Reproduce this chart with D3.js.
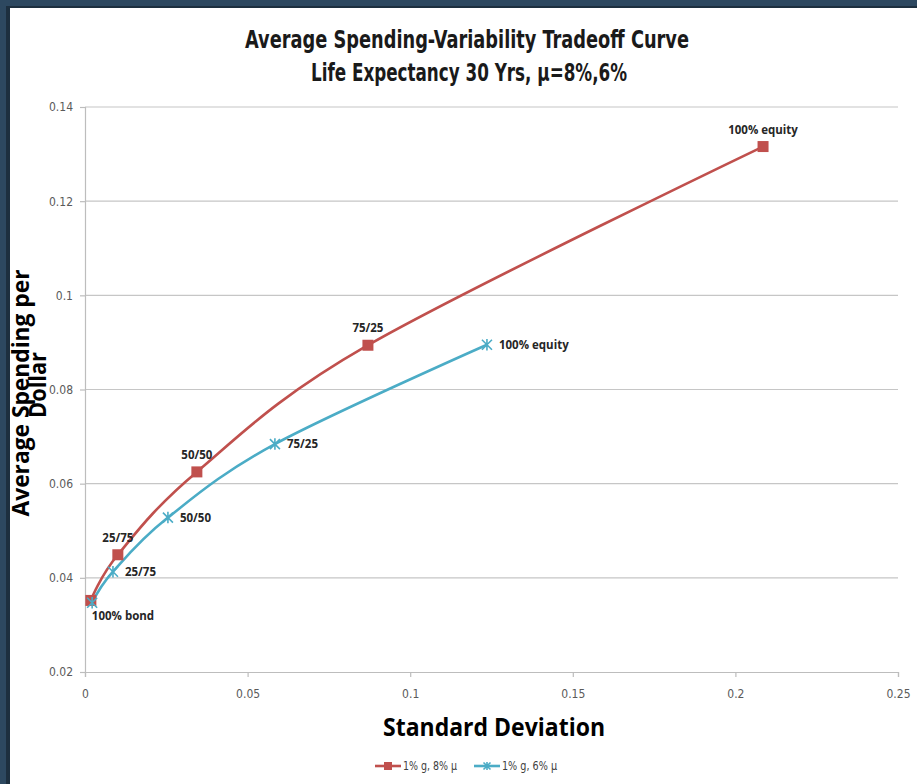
<!DOCTYPE html>
<html>
<head>
<meta charset="utf-8">
<script src="https://cdn.jsdelivr.net/npm/d3@7"></script>
<style>
  html, body { margin: 0; padding: 0; background: #ffffff; }
  svg { display: block; }
</style>
</head>
<body>
<svg id="chart" width="917" height="784"></svg>
<script>
// ---- data ----
const portfolios = ["100% bond", "25/75", "50/50", "75/25", "100% equity"];

// 1% g, 8% μ
const sdHigh  = [0.0018, 0.0101, 0.0344, 0.0870, 0.2085];
const spHigh  = [0.0352, 0.0449, 0.0625, 0.0894, 0.1316];

// 1% g, 6% μ
const sdLow   = [0.0022, 0.0086, 0.0255, 0.0584, 0.1236];
const spLow   = [0.0347, 0.0413, 0.0528, 0.0684, 0.0895];

const seriesNames = ["1% g, 8% μ", "1% g, 6% μ"];
const xTicks = [0, 0.05, 0.1, 0.15, 0.2, 0.25];
const yTicks = [0.02, 0.04, 0.06, 0.08, 0.1, 0.12, 0.14];

const titleLines = ["Average Spending-Variability Tradeoff Curve", "Life Expectancy 30 Yrs, μ=8%,6%"];
const xTitle = "Standard Deviation";
const yTitleLines = ["Average Spending per", "Dollar"];

// ---- layout ----
const W = 917, H = 784;
const plot = { left: 85, right: 898, top: 107, bottom: 672 };
const RED = "#c0504d", BLUE = "#4bacc6";
const narrow = "'Liberation Sans Narrow', 'DejaVu Sans Condensed', 'Open Sans', sans-serif";
const labelFont = "'Open Sans', 'Liberation Sans', sans-serif";

const svg = d3.select("#chart");

// page frame
svg.append("rect").attr("width", W).attr("height", H).attr("fill", "#ffffff");
svg.append("rect").attr("x", 0).attr("y", 0).attr("width", W).attr("height", 7).attr("fill", "#2d4860");
svg.append("rect").attr("x", 0).attr("y", 6).attr("width", W).attr("height", 2).attr("fill", "#1d2f3f");
svg.append("rect").attr("x", 0).attr("y", 0).attr("width", 7).attr("height", H).attr("fill", "#2d4860");
svg.append("rect").attr("x", 6).attr("y", 6).attr("width", 4).attr("height", H).attr("fill", "#1d2f3f");

const x = d3.scaleLinear().domain([0, 0.25]).range([plot.left, plot.right]);
const y = d3.scaleLinear().domain([0.02, 0.14]).range([plot.bottom, plot.top]);

// squeeze a text element horizontally to a target width (condensed look)
function squeeze(sel, target) {
  return sel.attr("textLength", target).attr("lengthAdjust", "spacingAndGlyphs");
}

// gridlines
svg.append("g")
  .selectAll("line")
  .data(yTicks.slice(1))
  .join("line")
  .attr("x1", plot.left).attr("x2", plot.right)
  .attr("y1", d => y(d)).attr("y2", d => y(d))
  .attr("stroke", "#c6c6c6").attr("stroke-width", 1.2);

// axes
const fmt = d => String(+d.toFixed(2));
const yAxis = d3.axisLeft(y).tickValues(yTicks).tickSize(5).tickPadding(7).tickFormat(fmt);
const gy = svg.append("g").attr("transform", `translate(${plot.left},0)`).call(yAxis);
const xAxis = d3.axisBottom(x).tickValues(xTicks).tickSize(5).tickPadding(12).tickFormat(fmt);
const gx = svg.append("g").attr("transform", `translate(0,${plot.bottom})`).call(xAxis);

[gx, gy].forEach(g => {
  g.select(".domain").attr("stroke", "#bdbdbd").attr("stroke-width", 1.2);
  g.selectAll(".tick line").attr("stroke", "#bdbdbd").attr("stroke-width", 1.2);
  g.selectAll(".tick text").attr("fill", "#5a5a5a")
    .attr("font-family", narrow).attr("font-size", 12);
});

// series lines
const line = d3.line().curve(d3.curveCatmullRom.alpha(0)).x(d => x(d[0])).y(d => y(d[1]));
const ptsHigh = sdHigh.map((v, i) => [v, spHigh[i]]);
const ptsLow = sdLow.map((v, i) => [v, spLow[i]]);

svg.append("path").datum(ptsHigh).attr("d", line)
  .attr("fill", "none").attr("stroke", RED).attr("stroke-width", 2.6);
svg.append("path").datum(ptsLow).attr("d", line)
  .attr("fill", "none").attr("stroke", BLUE).attr("stroke-width", 2.6);

// markers
function square(g, cx, cy, s) {
  g.append("rect").attr("x", cx - s / 2).attr("y", cy - s / 2)
    .attr("width", s).attr("height", s).attr("fill", RED);
}
function star(g, cx, cy, r) {
  const p = d3.path();
  p.moveTo(cx - r, cy - r); p.lineTo(cx + r, cy + r);
  p.moveTo(cx - r, cy + r); p.lineTo(cx + r, cy - r);
  p.moveTo(cx, cy - r * 1.15); p.lineTo(cx, cy + r * 1.15);
  g.append("path").attr("d", p.toString()).attr("stroke", BLUE)
    .attr("stroke-width", 1.6).attr("fill", "none");
}
const mk = svg.append("g");
ptsHigh.forEach(d => square(mk, x(d[0]), y(d[1]), 11));
ptsLow.forEach(d => star(mk, x(d[0]), y(d[1]), 5));

// data labels
const lbl = svg.append("g").attr("font-family", labelFont).attr("font-weight", 700)
  .attr("font-size", 11.5).attr("fill", "#262626");
// 8% μ series: labels above points (bond label below)
ptsHigh.forEach((d, i) => {
  if (i === 0) {
    lbl.append("text").attr("x", x(d[0]) + 1).attr("y", y(d[1]) + 20)
      .attr("text-anchor", "start").text(portfolios[i]);
  } else {
    lbl.append("text").attr("x", x(d[0])).attr("y", y(d[1]) - 13)
      .attr("text-anchor", "middle").text(portfolios[i]);
  }
});
// 6% μ series: labels to the right of points
ptsLow.forEach((d, i) => {
  if (i === 0) return;
  lbl.append("text").attr("x", x(d[0]) + 12).attr("y", y(d[1]) + 4)
    .attr("text-anchor", "start").text(portfolios[i]);
});

// titles
const t1 = svg.append("text").attr("x", 467).attr("y", 48).attr("text-anchor", "middle")
  .attr("font-family", narrow).attr("font-weight", 700).attr("font-size", 25)
  .attr("fill", "#1a1a1a").text(titleLines[0]);
squeeze(t1, 444);
const t2 = svg.append("text").attr("x", 469).attr("y", 81).attr("text-anchor", "middle")
  .attr("font-family", narrow).attr("font-weight", 700).attr("font-size", 25)
  .attr("fill", "#1a1a1a").text(titleLines[1]);
squeeze(t2, 316);

const xt = svg.append("text").attr("x", 494).attr("y", 736).attr("text-anchor", "middle")
  .attr("font-family", labelFont).attr("font-weight", 700).attr("font-size", 25)
  .attr("fill", "#000").text(xTitle);
squeeze(xt, 222);

const yt = svg.append("g").attr("transform", "translate(0,393) rotate(-90)");
const yt1 = yt.append("text").attr("x", 0).attr("y", 29).attr("text-anchor", "middle")
  .attr("font-family", labelFont).attr("font-weight", 700).attr("font-size", 24)
  .attr("fill", "#000").text(yTitleLines[0]);
squeeze(yt1, 247);
const yt2 = yt.append("text").attr("x", 8).attr("y", 46).attr("text-anchor", "middle")
  .attr("font-family", labelFont).attr("font-weight", 700).attr("font-size", 24)
  .attr("fill", "#000").text(yTitleLines[1]);
squeeze(yt2, 66);

// legend
const lg = svg.append("g").attr("font-family", narrow).attr("font-size", 12).attr("fill", "#404040");
const legendItems = [
  { name: seriesNames[0], x0: 375, w: 54, color: RED, kind: "square" },
  { name: seriesNames[1], x0: 474, w: 55, color: BLUE, kind: "star" }
];
legendItems.forEach(it => {
  const ly = 766;
  lg.append("line").attr("x1", it.x0).attr("x2", it.x0 + 26).attr("y1", ly).attr("y2", ly)
    .attr("stroke", it.color).attr("stroke-width", 2.6);
  if (it.kind === "square") square(lg, it.x0 + 13, ly, 8);
  else star(lg, it.x0 + 13, ly, 3.5);
  squeeze(lg.append("text").attr("x", it.x0 + 28).attr("y", ly + 4).text(it.name), it.w);
});
</script>
</body>
</html>
